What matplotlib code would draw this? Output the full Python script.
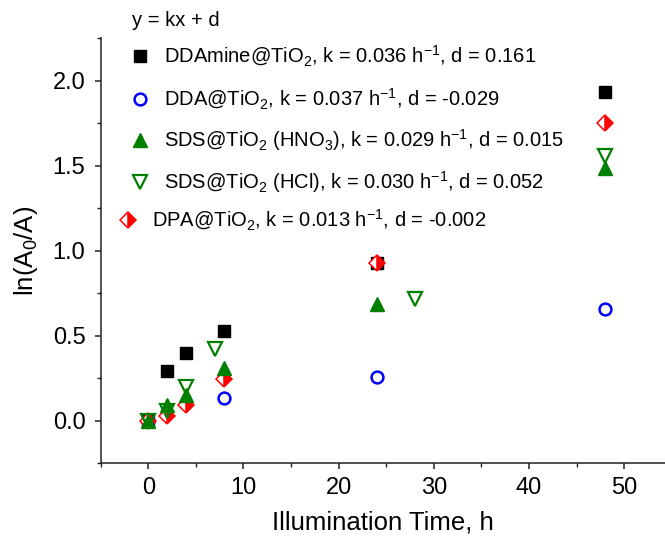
import matplotlib
matplotlib.use("Agg")
import matplotlib.pyplot as plt

plt.rcParams["font.family"] = ["Liberation Sans", "DejaVu Sans"]
plt.rcParams["mathtext.fontset"] = "custom"
plt.rcParams["mathtext.rm"] = "Liberation Sans"
plt.rcParams["mathtext.it"] = "Liberation Sans:italic"

# --- data ---
t_ddamine = [0, 2, 4, 8, 24, 48]
y_ddamine = [0.0, 0.295, 0.40, 0.53, 0.925, 1.93]

t_dda = [0, 8, 24, 48]
y_dda = [0.0, 0.135, 0.255, 0.655]

t_dpa = [0, 2, 4, 8, 24, 48]
y_dpa = [0.0, 0.03, 0.09, 0.245, 0.925, 1.75]

t_hno3 = [0, 2, 4, 8, 24, 48]
y_hno3 = [0.0, 0.09, 0.15, 0.31, 0.685, 1.485]

t_hcl = [0, 2, 4, 7, 28, 48]
y_hcl = [0.0, 0.06, 0.20, 0.42, 0.715, 1.555]

labels = [
    r"DDAmine@TiO$_2$, k = 0.036 h$^{-1}$, d = 0.161",
    r"DDA@TiO$_2$, k = 0.037 h$^{-1}$, d = -0.029",
    r"SDS@TiO$_2$ (HNO$_3$), k = 0.029 h$^{-1}$, d = 0.015",
    r"SDS@TiO$_2$ (HCl), k = 0.030 h$^{-1}$, d = 0.052",
    r"DPA@TiO$_2$, k = 0.013 h$^{-1}$, d = -0.002",
]

W, H = 665, 540
fig = plt.figure(figsize=(W / 100, H / 100), dpi=100)
ax = fig.add_axes([100.7 / W, (H - 463.3) / H, (W - 100.7) / W, (463.3 - 38) / H])

green = "#008000"
styles = [
    dict(marker="s", color="black", ms=8, ls="none"),
    dict(marker="o", color="blue", mfc="none", mew=1.8, ms=8.5, ls="none"),
    dict(marker="^", color=green, ms=9.5, ls="none"),
    dict(marker="v", color=green, mfc="none", mew=1.6, ms=9.5, ls="none"),
    dict(marker="D", color="red", mfc="red", mfcalt="white", fillstyle="right",
         mew=1.1, ms=8.5, ls="none"),
]

ax.plot(t_ddamine, y_ddamine, **styles[0])
ax.plot(t_dda, y_dda, **styles[1])
ax.plot(t_dpa, y_dpa, **styles[4])
ax.plot(t_hno3, y_hno3, **styles[2])
ax.plot(t_hcl, y_hcl, **styles[3])

ax.set_xlim(-5, 54.3)
ax.set_ylim(-0.25, 2.25)
ax.set_xticks([0, 10, 20, 30, 40, 50])
ax.set_xticks([-5, 5, 15, 25, 35, 45], minor=True)
ax.set_yticks([0.0, 0.5, 1.0, 1.5, 2.0])
ax.set_yticks([-0.25, 0.25, 0.75, 1.25, 1.75, 2.25], minor=True)
ax.yaxis.set_major_formatter(matplotlib.ticker.FormatStrFormatter("%.1f"))

for s in ["top", "right"]:
    ax.spines[s].set_visible(False)
for s in ["left", "bottom"]:
    ax.spines[s].set_linewidth(1.1)
    ax.spines[s].set_color("#222222")

ax.tick_params(which="major", direction="out", length=4, width=1.1,
               labelsize=17, color="#222222", pad=6)
ax.tick_params(which="minor", direction="out", length=3, width=1.0, color="#222222")
ax.tick_params(axis="y", pad=7)

ax.set_xlabel("Illumination Time, h", fontsize=18.5, labelpad=8)
ax.set_ylabel(r"ln(A$_0$/A)", fontsize=18.5, labelpad=9)

# --- hand-placed legend, as in the original ---
def fx(px):
    return px / W

def fy(py):
    return 1 - py / H

fig.text(fx(131.7), fy(20), "y = kx + d", fontsize=14.5, va="center")
rows = [56, 99, 140, 182, 220]
mx = [140, 140, 140, 140, 128]
tx = [164, 164, 164, 164, 152]
for i, lab in enumerate(labels):
    st = dict(styles[i])
    st.pop("ls")
    if i == 0:
        st["ms"] = 9
    fig.add_artist(plt.Line2D([fx(mx[i])], [fy(rows[i])], transform=fig.transFigure, **st))
    fig.text(fx(tx[i]), fy(rows[i]), lab, fontsize=14.5, va="center")

fig.savefig("out.png", dpi=100)
